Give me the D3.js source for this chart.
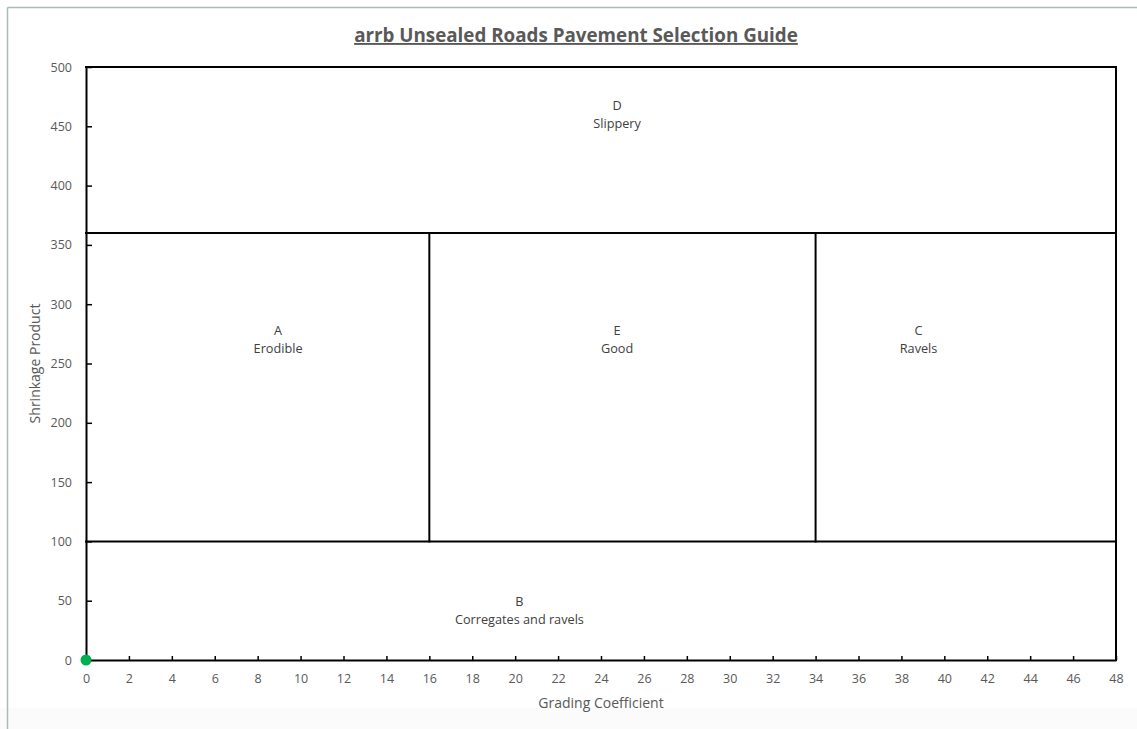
<!DOCTYPE html>
<html>
<head>
<meta charset="utf-8">
<script src="https://cdn.jsdelivr.net/npm/d3@7"></script>
<style>
  body { margin: 0; background: #ffffff; }
  svg { display: block; font-family: "Open Sans", sans-serif; }
</style>
</head>
<body>
<div id="chart"></div>
<script>
// chart values
var chartTitle = "arrb Unsealed Roads Pavement Selection Guide";
var xAxisTitle = "Grading Coefficient";
var yAxisTitle = "Shrinkage Product";

var xTickValues = [0, 2, 4, 6, 8, 10, 12, 14, 16, 18, 20, 22, 24, 26, 28, 30, 32, 34, 36, 38, 40, 42, 44, 46, 48];
var yTickValues = [0, 50, 100, 150, 200, 250, 300, 350, 400, 450, 500];

// zone boundaries (grading coefficient, shrinkage product)
var boundaryX1 = [0, 48, 0, 0, 16, 34];
var boundaryY1 = [500, 500, 360, 100, 100, 100];
var boundaryX2 = [48, 48, 48, 48, 16, 34];
var boundaryY2 = [500, 0, 360, 100, 360, 360];

// zone labels
var zoneCodes = ["D", "A", "E", "C", "B"];
var zoneNames = ["Slippery", "Erodible", "Good", "Ravels", "Corregates and ravels"];
var zoneX = [24.75, 8.95, 24.75, 38.8, 20.2];
var zoneY = [461, 271, 271, 271, 43];

// sample point
var sampleX = [0];
var sampleY = [0];

var svgWidth = 1137;
var svgHeight = 729;

var margin = { top: 67, right: 21, bottom: 69, left: 86 };
var width = svgWidth - margin.left - margin.right;
var height = svgHeight - margin.top - margin.bottom;

var svg = d3.select("#chart")
  .append("svg")
  .attr("width", svgWidth)
  .attr("height", svgHeight);

// outer frame
svg.append("rect")
  .attr("x", 0).attr("y", 708)
  .attr("width", svgWidth).attr("height", svgHeight - 708)
  .attr("fill", "#fbfbfb");

svg.append("line")
  .attr("x1", 7.5).attr("y1", 7.5).attr("x2", svgWidth).attr("y2", 7.5)
  .attr("stroke", "#a9bcbc").attr("stroke-width", 1.5);
svg.append("line")
  .attr("x1", 7.5).attr("y1", 7.5).attr("x2", 7.5).attr("y2", svgHeight)
  .attr("stroke", "#a9bcbc").attr("stroke-width", 1.5);

var chartGroup = svg.append("g")
  .attr("transform", `translate(${margin.left}, ${margin.top})`);

// scales
var xLinearScale = d3.scaleLinear()
  .domain([0, 48])
  .range([0, width]);

var yLinearScale = d3.scaleLinear()
  .domain([0, 500])
  .range([height, 0]);

// axes, ticks pointing inside
var bottomAxis = d3.axisBottom(xLinearScale)
  .tickValues(xTickValues)
  .tickSizeInner(-4)
  .tickSizeOuter(0)
  .tickPadding(14);

var leftAxis = d3.axisLeft(yLinearScale)
  .tickValues(yTickValues)
  .tickSizeInner(-6)
  .tickSizeOuter(0)
  .tickPadding(14);

var xAxisGroup = chartGroup.append("g")
  .attr("transform", `translate(0, ${height})`)
  .call(bottomAxis);

var yAxisGroup = chartGroup.append("g")
  .call(leftAxis);

[xAxisGroup, yAxisGroup].forEach(function(g) {
  g.select(".domain").attr("stroke", "#000").attr("stroke-width", 2);
  g.selectAll(".tick line").attr("stroke", "#000").attr("stroke-width", 1.5);
  g.selectAll(".tick text")
    .attr("fill", "#595959")
    .style("font-size", "12.5px")
    .style("font-family", "'Open Sans', sans-serif");
});

// zone boundaries
chartGroup.selectAll(".boundary")
  .data(boundaryX1)
  .enter()
  .append("line")
  .attr("class", "boundary")
  .attr("x1", (d, i) => xLinearScale(boundaryX1[i]))
  .attr("y1", (d, i) => yLinearScale(boundaryY1[i]))
  .attr("x2", (d, i) => xLinearScale(boundaryX2[i]))
  .attr("y2", (d, i) => yLinearScale(boundaryY2[i]))
  .attr("stroke", "#000")
  .attr("stroke-width", 2)
  .attr("stroke-linecap", "square");

// zone labels
var zoneLabels = chartGroup.selectAll(".zone")
  .data(zoneCodes)
  .enter()
  .append("text")
  .attr("class", "zone")
  .attr("x", (d, i) => xLinearScale(zoneX[i]))
  .attr("y", (d, i) => yLinearScale(zoneY[i]))
  .attr("text-anchor", "middle")
  .attr("fill", "#404040")
  .style("font-size", "12.7px");

zoneLabels.append("tspan")
  .attr("x", (d, i) => xLinearScale(zoneX[i]))
  .attr("dy", "-0.25em")
  .text(d => d);

zoneLabels.append("tspan")
  .attr("x", (d, i) => xLinearScale(zoneX[i]))
  .attr("dy", "1.4em")
  .text((d, i) => zoneNames[i]);

// sample point
chartGroup.selectAll("circle")
  .data(sampleX)
  .enter()
  .append("circle")
  .attr("cx", (d, i) => xLinearScale(sampleX[i]))
  .attr("cy", (d, i) => yLinearScale(sampleY[i]))
  .attr("r", 5.5)
  .attr("fill", "#00b050");

// title
svg.append("text")
  .attr("x", 576)
  .attr("y", 42)
  .attr("text-anchor", "middle")
  .attr("fill", "#595959")
  .style("font-size", "18.8px")
  .style("font-weight", "bold")
  .style("text-decoration", "underline")
  .text(chartTitle);

// axes labels
svg.append("text")
  .attr("x", margin.left + width / 2)
  .attr("y", 708)
  .attr("text-anchor", "middle")
  .attr("fill", "#595959")
  .style("font-size", "14px")
  .text(xAxisTitle);

svg.append("text")
  .attr("transform", `translate(40, ${margin.top + height / 2}) rotate(-90)`)
  .attr("text-anchor", "middle")
  .attr("fill", "#595959")
  .style("font-size", "14px")
  .text(yAxisTitle);
</script>
</body>
</html>
